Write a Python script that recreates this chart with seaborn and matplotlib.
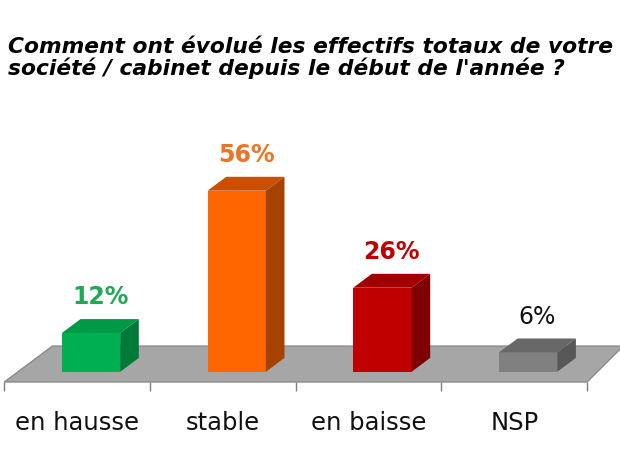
import numpy as np
import pandas as pd
import seaborn as sns
import matplotlib.pyplot as plt
from matplotlib.patches import Polygon

categories = ["en hausse", "stable", "en baisse", "NSP"]
values = [12, 56, 26, 6]
value_labels = ["12%", "56%", "26%", "6%"]
title = ("Comment ont évolué les effectifs totaux de votre\n"
         "société / cabinet depuis le début de l'année ?")

front_colors = ["#00B050", "#FF6600", "#C00000", "#808080"]
top_colors = ["#009A46", "#C85000", "#A00000", "#686868"]
side_colors = ["#007A38", "#A64200", "#7F0000", "#575757"]
label_colors = ["#1DAA55", "#EC7422", "#C00000", "#111111"]
label_weights = ["bold", "bold", "bold", "normal"]

sns.set_style("white")
plt.rcParams["font.family"] = ["DejaVu Sans"]

fig = plt.figure(figsize=(6.2, 4.65), dpi=100)
ax = fig.add_axes([0, 0, 1, 1])

df = pd.DataFrame({"cat": categories, "val": values})
sns.barplot(data=df, x="cat", y="val", hue="cat", palette=front_colors,
            width=0.4, saturation=1, legend=False, ax=ax, zorder=3,
            edgecolor="none", linewidth=0)

# fake 3d: depth of bars and floor
dx, dy = 0.128, 4.3
shift = 0.095
ticks = np.arange(len(categories) + 1) - 0.5 - shift
floor_y = -3.15
floor_dx, floor_dy = 0.33, 11.1

floor = Polygon([(ticks[0], floor_y), (ticks[-1], floor_y),
                 (ticks[-1] + floor_dx * 0.75, floor_y + floor_dy),
                 (ticks[0] + floor_dx, floor_y + floor_dy)],
                closed=True, facecolor="#A6A6A6", edgecolor="#8A8A8A", lw=1, zorder=1)
ax.add_patch(floor)
ax.vlines(ticks, floor_y - 2.8, floor_y, color="#7F7F7F", lw=1, zorder=1)

for i, p in enumerate(ax.patches[:len(values)]):
    x0, w, h = p.get_x(), p.get_width(), p.get_height()
    top = Polygon([(x0, h), (x0 + w, h), (x0 + w + dx, h + dy), (x0 + dx, h + dy)],
                  closed=True, facecolor=top_colors[i], edgecolor="none", zorder=3)
    side = Polygon([(x0 + w, 0), (x0 + w + dx, dy), (x0 + w + dx, h + dy), (x0 + w, h)],
                   closed=True, facecolor=side_colors[i], edgecolor="none", zorder=3)
    ax.add_patch(top)
    ax.add_patch(side)
    ax.text(x0 + (w + dx) / 2, h + dy + 4.6, value_labels[i], ha="center", va="baseline",
            fontsize=17, fontweight=label_weights[i], color=label_colors[i], zorder=4)

for i, cat in enumerate(categories):
    ax.text(i - shift, -15.8, cat, ha="center", va="center", fontsize=17.5, color="#111111")

ax.set_xlim(-0.6246, 3.6308)
ax.set_ylim(-28.82, 114.97)
ax.axis("off")

fig.text(8 / 620, 1 - 37 / 465, title, ha="left", va="top", fontsize=15.7,
         fontweight="bold", style="italic", linespacing=1.02, color="#000000")

fig.savefig("out.png", dpi=100)
